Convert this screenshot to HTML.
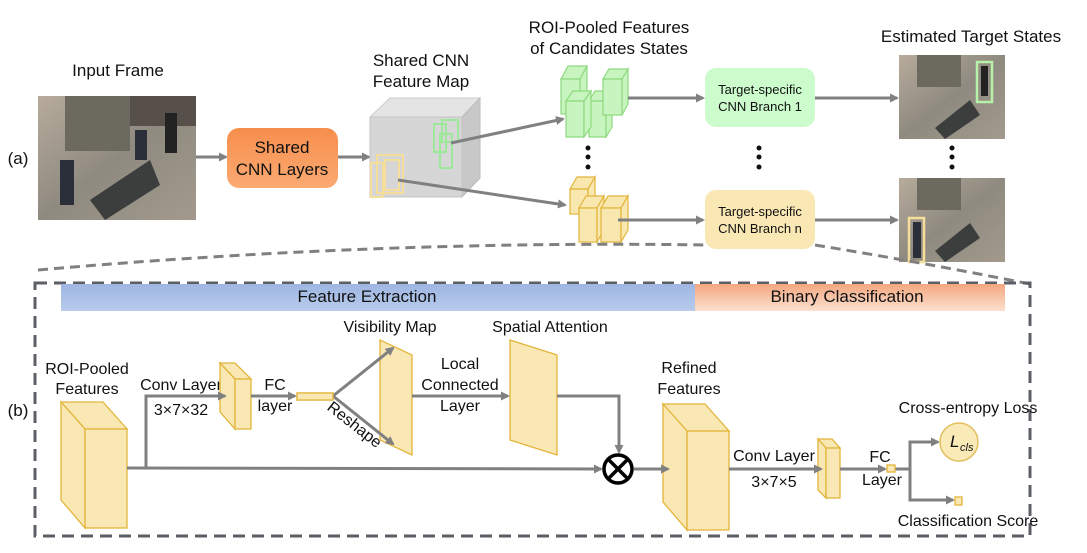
<!DOCTYPE html>
<html><head><meta charset="utf-8"><style>
body{margin:0;background:#fff}
svg{display:block;font-family:"Liberation Sans",sans-serif}
text{fill:#111}
</style></head><body>
<svg width="1087" height="553" viewBox="0 0 1087 553" xmlns="http://www.w3.org/2000/svg">
<defs>
<marker id="ah" markerWidth="9" markerHeight="9" refX="7" refY="4.5" orient="auto" markerUnits="userSpaceOnUse"><path d="M0,0 L9,4.5 L0,9 Z" fill="#808080"/></marker>
<linearGradient id="og" x1="0" y1="0" x2="0" y2="1"><stop offset="0" stop-color="#f68e4c"/><stop offset="1" stop-color="#fbaa73"/></linearGradient>
<linearGradient id="bb" x1="0" y1="0" x2="0" y2="1"><stop offset="0" stop-color="#9db6e2"/><stop offset="1" stop-color="#b8cbeb"/></linearGradient>
<linearGradient id="ob" x1="0" y1="0" x2="0" y2="1"><stop offset="0" stop-color="#f4a77f"/><stop offset="1" stop-color="#fbe0cf"/></linearGradient>
<linearGradient id="img" x1="0" y1="0" x2="1" y2="1"><stop offset="0" stop-color="#b7ab9c"/><stop offset="0.5" stop-color="#8f8a80"/><stop offset="1" stop-color="#a29a8c"/></linearGradient>
</defs>
<g font-size="17">
<text x="118" y="76" text-anchor="middle">Input Frame</text>
<text x="18" y="164" text-anchor="middle">(a)</text>
<text x="421" y="66" text-anchor="middle">Shared CNN</text>
<text x="421" y="87" text-anchor="middle">Feature Map</text>
<text x="609" y="33" text-anchor="middle">ROI-Pooled Features</text>
<text x="609" y="54" text-anchor="middle">of Candidates States</text>
<text x="971" y="42" text-anchor="middle">Estimated Target States</text>
</g>
<rect x="38" y="96" width="158" height="124" fill="url(#img)"/>
<rect x="65" y="96" width="65" height="55" fill="#6c6a5e"/>
<rect x="130" y="96" width="66" height="30" fill="#57504a"/>
<polygon points="90,200 150,160 160,185 105,220" fill="#3c3e3e"/>
<rect x="60" y="160" width="14" height="45" fill="#2b2f3a"/>
<rect x="135" y="130" width="12" height="30" fill="#2b2f3a"/>
<rect x="165" y="113" width="12" height="40" fill="#222"/>
<line x1="196" y1="157" x2="226" y2="157" stroke="#808080" stroke-width="3" marker-end="url(#ah)"/>
<rect x="227" y="128" width="111" height="60" rx="12" fill="url(#og)"/>
<text x="282" y="153" font-size="17" text-anchor="middle">Shared</text>
<text x="282" y="175" font-size="17" text-anchor="middle">CNN Layers</text>
<line x1="338" y1="157" x2="369" y2="157" stroke="#808080" stroke-width="3" marker-end="url(#ah)"/>
<polygon points="370,117 390,98 480,98 462,117" fill="#e4e4e4" stroke="#ccc"/>
<polygon points="462,117 480,98 480,178 462,197" fill="#c8c8c8" stroke="#bbb"/>
<rect x="370" y="117" width="92" height="80" fill="#d6d6d6" stroke="#c4c4c4"/>
<g fill="none" stroke="#9ee89b" stroke-width="2"><rect x="434" y="124" width="12" height="28"/><rect x="442" y="120" width="16" height="22"/><rect x="440" y="134" width="12" height="34"/></g>
<g fill="none" stroke="#f5dd9a" stroke-width="2"><rect x="371" y="163" width="12" height="34"/><rect x="377" y="155" width="26" height="38"/><rect x="385" y="160" width="14" height="30"/></g>
<line x1="451" y1="143" x2="563" y2="119" stroke="#808080" stroke-width="3" marker-end="url(#ah)"/>
<line x1="398" y1="180" x2="565" y2="205" stroke="#808080" stroke-width="3" marker-end="url(#ah)"/>
<g fill="#c8f5bf" stroke="#8ed97f" stroke-width="1.2">
<polygon points="561,79 568,66 587,66 580,79"/><rect x="561" y="79" width="19" height="35"/><polygon points="580,79 587,66 587,100 580,114"/>
<polygon points="603,79 609,69 628,69 622,79"/><polygon points="622,79 628,69 628,104 622,115"/>
<polygon points="589,101 595,91 612,91 606,101"/><rect x="589" y="101" width="17" height="36"/><polygon points="606,101 612,91 612,127 606,137"/>
<polygon points="566,101 573,91 591,91 584,101"/><rect x="566" y="101" width="18" height="36"/><polygon points="584,101 591,91 591,127 584,137"/>
<rect x="603" y="79" width="19" height="36"/>
</g>
<line x1="628" y1="98" x2="703" y2="98" stroke="#808080" stroke-width="3" marker-end="url(#ah)"/>
<rect x="705" y="68" width="110" height="59" rx="11" fill="#ccfbcc"/>
<text x="760" y="94" font-size="13" text-anchor="middle">Target-specific</text>
<text x="760" y="111" font-size="13" text-anchor="middle">CNN Branch 1</text>
<line x1="815" y1="98" x2="897" y2="98" stroke="#808080" stroke-width="3" marker-end="url(#ah)"/>
<g fill="#f9e7b0" stroke="#e2b53a" stroke-width="1.2">
<polygon points="570,189 577,177 595,177 588,189"/><rect x="570" y="189" width="18" height="25"/><polygon points="588,189 595,177 595,202 588,214"/>
<polygon points="579,208 586,196 604,196 597,208"/><rect x="579" y="208" width="18" height="34"/><polygon points="597,208 604,196 604,230 597,242"/>
<polygon points="601,208 608,196 628,196 621,208"/><rect x="601" y="208" width="20" height="34"/><polygon points="621,208 628,196 628,230 621,242"/>
</g>
<line x1="618" y1="220" x2="703" y2="220" stroke="#808080" stroke-width="3" marker-end="url(#ah)"/>
<rect x="705" y="190" width="110" height="59" rx="11" fill="#f9e8b4"/>
<text x="760" y="216" font-size="13" text-anchor="middle">Target-specific</text>
<text x="760" y="233" font-size="13" text-anchor="middle">CNN Branch n</text>
<line x1="815" y1="220" x2="897" y2="220" stroke="#808080" stroke-width="3" marker-end="url(#ah)"/>
<g fill="#111"><circle cx="588" cy="148" r="2.5"/><circle cx="588" cy="157" r="2.5"/><circle cx="588" cy="167" r="2.5"/>
<circle cx="759" cy="148" r="2.5"/><circle cx="759" cy="157" r="2.5"/><circle cx="759" cy="167" r="2.5"/>
<circle cx="952" cy="148" r="2.5"/><circle cx="952" cy="157" r="2.5"/><circle cx="952" cy="167" r="2.5"/></g>
<g>
<rect x="899" y="55" width="106" height="84" fill="url(#img)"/><rect x="917" y="55" width="44" height="32" fill="#6c6a5e"/><polygon points="935,128 970,100 980,115 945,139" fill="#3c3e3e"/>
<rect x="977" y="62" width="15" height="40" fill="none" stroke="#b6f0a9" stroke-width="2.5"/><rect x="981" y="66" width="7" height="30" fill="#222"/>
<rect x="899" y="178" width="106" height="84" fill="url(#img)"/><rect x="917" y="178" width="44" height="32" fill="#6c6a5e"/><polygon points="935,251 970,223 980,238 945,262" fill="#3c3e3e"/>
<rect x="913" y="222" width="8" height="36" fill="#2b2f3a"/><rect x="909" y="218" width="15" height="44" fill="none" stroke="#f5dd9a" stroke-width="2.5"/>
</g>
<g stroke="#808080" stroke-width="3" fill="none" stroke-dasharray="10,6">
<path d="M38,270 Q380,240 707,245"/>
<path d="M815,245 Q920,262 1030,284"/>
</g>
<rect x="35" y="283" width="995" height="253" fill="none" stroke="#5c5f66" stroke-width="3" stroke-dasharray="12,7"/>
<rect x="61" y="284" width="634" height="27" fill="url(#bb)"/>
<rect x="695" y="284" width="310" height="27" fill="url(#ob)"/>
<g font-size="17">
<text x="367" y="302" text-anchor="middle">Feature Extraction</text>
<text x="847" y="302" text-anchor="middle">Binary Classification</text>
<text x="18" y="416" text-anchor="middle">(b)</text>
</g>
<g font-size="16">
<text x="87" y="374" text-anchor="middle">ROI-Pooled</text>
<text x="87" y="394" text-anchor="middle">Features</text>
<text x="181" y="390" text-anchor="middle">Conv Layer</text>
<text x="181" y="415" text-anchor="middle">3×7×32</text>
<text x="275" y="390" text-anchor="middle">FC</text>
<text x="275" y="411" text-anchor="middle">layer</text>
<text x="390" y="332" text-anchor="middle">Visibility Map</text>
<text x="550" y="332" text-anchor="middle">Spatial Attention</text>
<text x="460" y="369" text-anchor="middle">Local</text>
<text x="460" y="390" text-anchor="middle">Connected</text>
<text x="460" y="411" text-anchor="middle">Layer</text>
<text x="689" y="373" text-anchor="middle">Refined</text>
<text x="689" y="394" text-anchor="middle">Features</text>
<text x="774" y="461" text-anchor="middle">Conv Layer</text>
<text x="774" y="487" text-anchor="middle">3×7×5</text>
<text x="880" y="462" text-anchor="middle">FC</text>
<text x="882" y="485" text-anchor="middle">Layer</text>
<text x="968" y="413" text-anchor="middle">Cross-entropy Loss</text>
<text x="968" y="526" text-anchor="middle">Classification Score</text>
<text x="355" y="430" transform="rotate(38 355 424)" text-anchor="middle">Reshape</text>
</g>
<g fill="#f9e8b4" stroke="#e2b53a" stroke-width="1.3">
<polygon points="61,402 103,402 127,429 85,429"/>
<polygon points="61,402 85,429 85,528 61,500"/>
<rect x="85" y="429" width="42" height="99"/>
<polygon points="220,363 235,379 251,379 235,363"/>
<polygon points="220,363 235,379 235,429 220,412"/>
<rect x="235" y="379" width="16" height="50"/>
<rect x="297" y="393" width="36" height="7"/>
<polygon points="380,340 412,355 412,455 380,440"/>
<polygon points="510,340 557,355 557,455 510,440"/>
<polygon points="663,404 705,404 729,431 687,431"/>
<polygon points="663,404 687,431 687,530 663,502"/>
<rect x="687" y="431" width="42" height="99"/>
<polygon points="818,439 826,448 840,448 832,439"/>
<polygon points="818,439 826,448 826,498 818,490"/>
<rect x="826" y="448" width="14" height="50"/>
</g>
<g stroke="#808080" stroke-width="3" fill="none">
<polyline points="127,468 601,469" marker-end="url(#ah)"/>
<polyline points="146,468 146,396 225,396" marker-end="url(#ah)"/>
<line x1="251" y1="396" x2="295" y2="396" marker-end="url(#ah)"/>
<line x1="333" y1="396" x2="393" y2="348" marker-end="url(#ah)"/>
<line x1="333" y1="396" x2="393" y2="444" marker-end="url(#ah)"/>
<line x1="412" y1="396" x2="508" y2="396" marker-end="url(#ah)"/>
<polyline points="557,396 619,396 619,452" marker-end="url(#ah)"/>
<line x1="634" y1="469" x2="668" y2="469" marker-end="url(#ah)"/>
<line x1="729" y1="469" x2="821" y2="469" marker-end="url(#ah)"/>
<line x1="840" y1="469" x2="885" y2="469" marker-end="url(#ah)"/>
<polyline points="895,469 910,469"/>
<polyline points="910,469 910,442 938,442" marker-end="url(#ah)"/>
<polyline points="910,469 910,500 953,500" marker-end="url(#ah)"/>
</g>
<g fill="#f9e8b4" stroke="#e2b53a" stroke-width="1.3">
<rect x="297" y="393" width="36" height="7"/>
<rect x="887" y="465" width="8" height="7"/>
<rect x="955" y="497" width="7" height="8"/>
</g>
<circle cx="618" cy="469" r="14" fill="#fff" stroke="#000" stroke-width="3.5"/>
<line x1="608" y1="459" x2="628" y2="479" stroke="#000" stroke-width="3.5"/>
<line x1="628" y1="459" x2="608" y2="479" stroke="#000" stroke-width="3.5"/>
<circle cx="959" cy="442" r="19" fill="#faeab8" stroke="#e2c060" stroke-width="1.5"/>
<text x="950" y="447" font-size="17" font-style="italic">L</text><text x="960" y="451" font-size="11" font-style="italic">cls</text>
</svg>
</body></html>
